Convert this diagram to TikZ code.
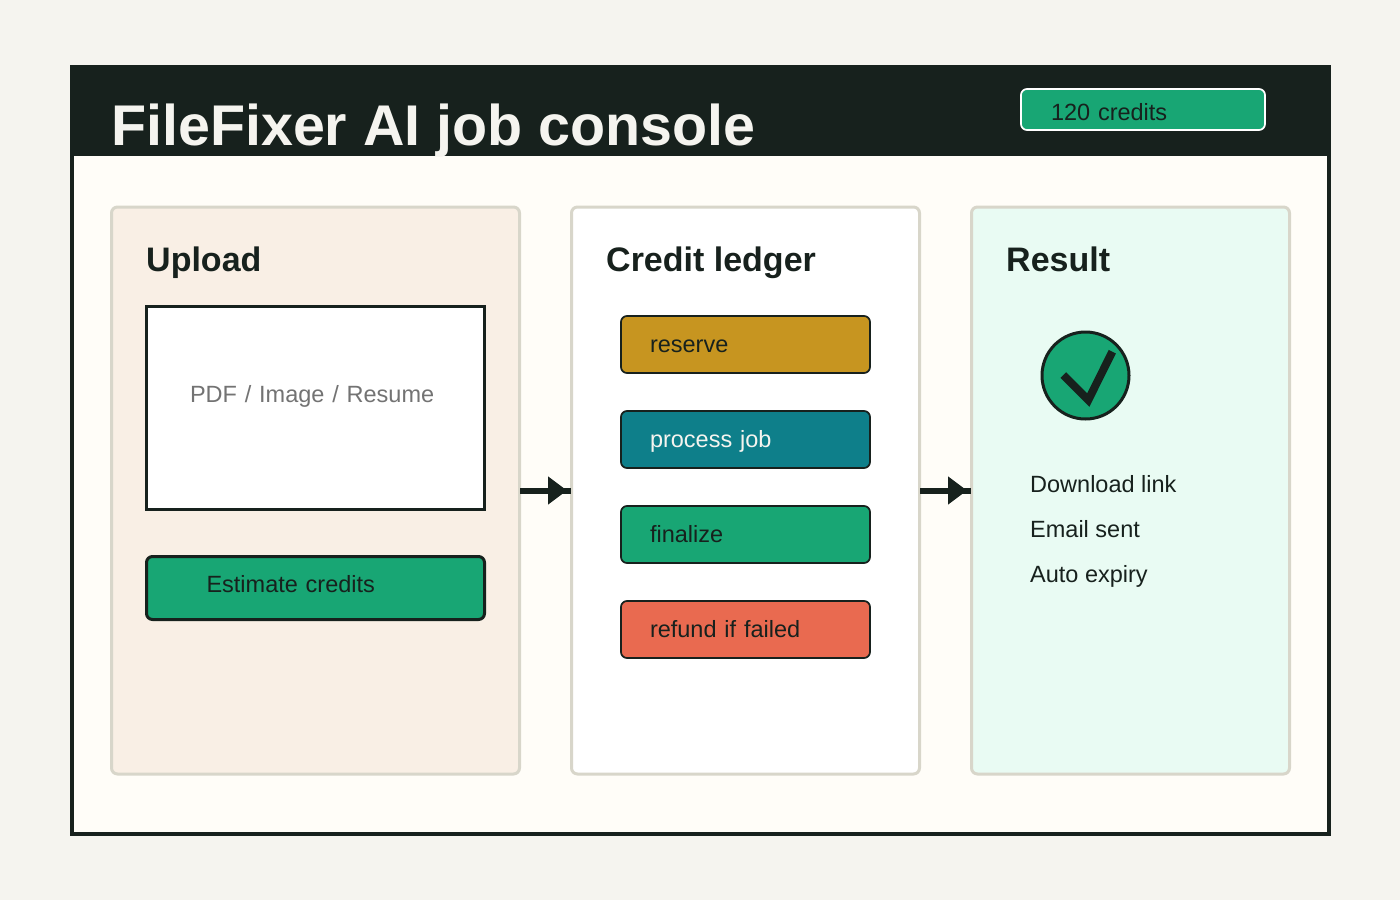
\documentclass[tikz,border=0pt]{standalone}
\usepackage{fontspec}
\setmainfont{Liberation Sans}
\usetikzlibrary{arrows.meta}

\definecolor{pagebg}{HTML}{F5F4EF}
\definecolor{ink}{HTML}{17211D}
\definecolor{paper}{HTML}{FFFDF8}
\definecolor{edge}{HTML}{D8D6CA}
\definecolor{sand}{HTML}{F9EFE5}
\definecolor{mint}{HTML}{E9FBF3}
\definecolor{okgreen}{HTML}{18A674}
\definecolor{gold}{HTML}{C79520}
\definecolor{teal}{HTML}{0E7F8A}
\definecolor{coral}{HTML}{E96A50}

\tikzset{
    bodytext/.style={font=\fontsize{23.5}{28}\selectfont, text=ink},
    heading/.style={font=\fontsize{34}{40}\selectfont\bfseries, text=ink, anchor=base west, inner sep=0pt},
    panel/.style={rectangle, draw=edge, line width=3pt, rounded corners=6pt, minimum height=567pt},
    stepbox/.style={rectangle, draw=ink, line width=1.7pt, rounded corners=6pt, bodytext, align=left,
        text width=191pt, inner xsep=29pt, inner ysep=0pt, minimum height=57pt, text height=18pt, text depth=3pt},
    outcome/.style={bodytext, anchor=base west, inner sep=0pt},
    flowline/.style={draw=ink, line width=6pt, shorten <=-1pt, shorten >=-1pt, -{Triangle[length=19pt,width=27pt]Rectangle[length=4pt,width=6pt]}},
}

\begin{document}
\begin{tikzpicture}[x=1pt, y=-1pt, node distance=95pt]
    % Page and console frame
    \fill[pagebg] (0,0) rectangle (1400,900);
    \node [rectangle, draw=ink, fill=paper, line width=4pt, minimum width=1257pt, minimum height=767pt] (console) at (700.5,450.5) {};
    \node [rectangle, fill=ink, minimum width=1261pt, minimum height=91pt] (header) at (700.5,110.5) {};
    \node [anchor=base west, inner sep=0pt, text=pagebg, font=\fontsize{57.4}{66}\selectfont\bfseries] (title) at (111,145) {FileFixer AI job console};
    \node [stepbox, draw=white, fill=okgreen, text width=184pt, inner xsep=30pt, minimum height=41pt, text height=24pt, text depth=3pt] (credits) at (1143,109.5) {120 credits};

    % Panels
    \node [panel, fill=sand, minimum width=408pt] (upload) at (315.5,490.5) {};
    \node [panel, fill=white, minimum width=348pt] (ledger) at (745.5,490.5) {};
    \node [panel, fill=mint, minimum width=318pt] (result) at (1130.5,490.5) {};
    \node [heading] (uploadtitle) at (146,271) {Upload};
    \node [heading] (ledgertitle) at (606,271) {Credit ledger};
    \node [heading] (resulttitle) at (1006,271) {Result};

    % Upload panel
    \node [rectangle, draw=ink, fill=white, line width=3pt, bodytext, text=black!55, align=left, text width=251pt, inner xsep=43.5pt, inner ysep=0pt,
        minimum height=203pt, text height=18pt, text depth=29pt] (dropbox) at (315.5,407.5) {PDF / Image / Resume};
    \node [stepbox, fill=okgreen, line width=3pt, text width=218pt, inner xsep=60pt, minimum height=63pt, text height=11pt, text depth=3pt] (estimate) at (315.5,588) {Estimate credits};

    % Ledger steps
    \node [stepbox, fill=gold] (reserve) at (745.5,344.5) {reserve};
    \node [stepbox, fill=teal, text=pagebg, below of=reserve] (process) {process job};
    \node [stepbox, fill=okgreen, below of=process] (finalize) {finalize};
    \node [stepbox, fill=coral, below of=finalize] (refund) {refund if failed};

    % Result panel
    \node [circle, draw=ink, fill=okgreen, line width=3pt, minimum size=87pt, inner sep=0pt] (badge) at (1085.5,375.5) {};
    \draw [draw=ink, line width=8pt, miter limit=10] (1063.3,375) -- (1088.3,400) -- (1112.3,351.7);
    \node [outcome] (download) at (1030,492) {Download link};
    \node [outcome] (email) at (1030,537) {Email sent};
    \node [outcome] (expiry) at (1030,582) {Auto expiry};

    % Arrows
    \draw [flowline] (upload) -- (ledger);
    \draw [flowline] (ledger) -- (result);
\end{tikzpicture}
\end{document}
